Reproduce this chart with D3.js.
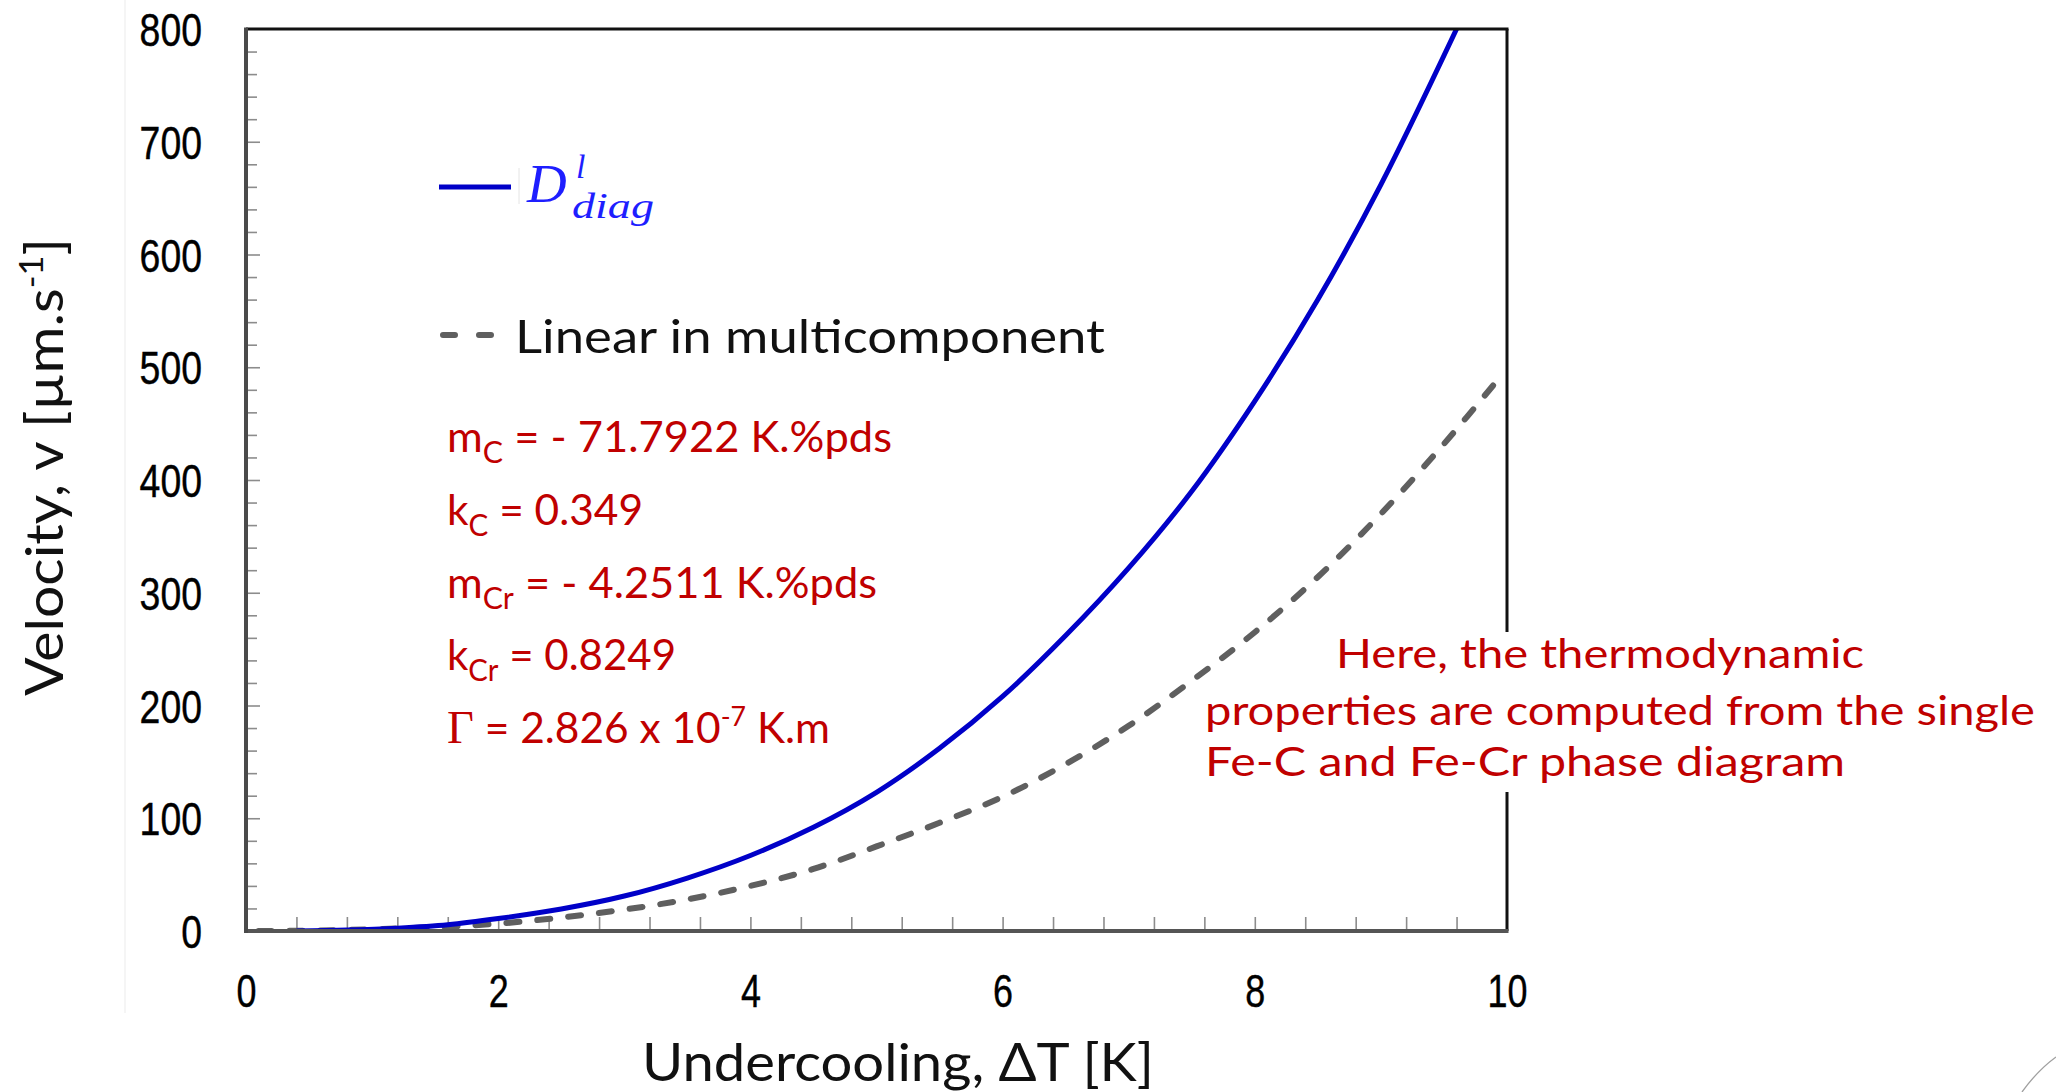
<!DOCTYPE html>
<html><head><meta charset="utf-8">
<script src="https://cdn.jsdelivr.net/npm/d3@7"></script>
<style>body{margin:0;background:#fff}svg{display:block}</style>
</head><body>
<svg id="c" width="2056" height="1092"></svg>
<script>
// ---- data ----
const diagT = [0.4, 0.8, 1.2, 1.6, 2.0, 2.5, 3.0, 3.5, 4.0, 4.5, 5.0, 5.5, 6.0, 6.5, 7.0, 7.5, 8.0, 8.5, 9.0, 9.6];
const diagV = [0, 0.8, 2.5, 5.5, 11, 19.5, 31, 47, 67, 92, 123, 162, 208, 262, 322, 390, 470, 560, 662, 800];
const linT = [0.1, 0.5, 1.0, 1.5, 2.0, 2.5, 3.0, 3.5, 4.0, 4.5, 5.0, 5.5, 6.0, 6.5, 7.0, 7.5, 8.0, 8.5, 9.0, 9.5, 9.95];
const linV = [0, 0.3, 1.5, 3.5, 6.5, 12, 19, 28, 40, 55, 75, 96, 119, 148, 182, 222, 265, 314, 370, 432, 492];
const xTicks = [0, 2, 4, 6, 8, 10];
const yTicks = [0, 100, 200, 300, 400, 500, 600, 700, 800];
const xTitle = "Undercooling, \u0394T [K]";
const yTitle = ["Velocity, v [\u00b5m.s", "-1", "]"];
const legendLinear = "Linear in multicomponent";
const annotation = ["Here, the thermodynamic", "properties are computed from the single", "Fe-C and Fe-Cr phase diagram"];

// ---- layout ----
const L = 246, R = 1507, T = 29, B = 931;
const svg = d3.select("#c");
const x = d3.scaleLinear().domain([0, 10]).range([L, R]);
const y = d3.scaleLinear().domain([0, 800]).range([B, T]);

svg.append("rect").attr("width", 2056).attr("height", 1092).attr("fill", "#fff");
// faint edge of pasted figure
svg.append("line").attr("x1", 125).attr("x2", 125).attr("y1", 0).attr("y2", 1013)
  .attr("stroke", "#f2f2f2").attr("stroke-width", 1.5);

// minor / major ticks (inward)
const tickCol = "#8c8c8c";
function styleTicks(g) {
  g.select(".domain").remove();
  g.selectAll("line").attr("stroke", tickCol).attr("stroke-width", 1.6);
}
svg.append("g").attr("transform", `translate(${L},0)`)
  .call(d3.axisLeft(y).tickValues(d3.range(20, 800, 20).filter(v => v % 100 !== 0)).tickSize(-11).tickFormat(""))
  .call(styleTicks);
svg.append("g").attr("transform", `translate(${L},0)`)
  .call(d3.axisLeft(y).tickValues(yTicks.slice(1, -1)).tickSize(-14).tickFormat(""))
  .call(styleTicks);
svg.append("g").attr("transform", `translate(0,${B})`)
  .call(d3.axisBottom(x).tickValues(d3.range(1, 25).map(i => +(i * 0.4).toFixed(1))).tickSize(-14).tickFormat(""))
  .call(styleTicks);

// tick labels
const tickFont = "'Liberation Sans Narrow','Arial Narrow','Liberation Sans',Arial,sans-serif";
const gy = svg.append("g").attr("transform", `translate(${L},0)`)
  .call(d3.axisLeft(y).tickValues(yTicks).tickSize(0).tickPadding(44));
gy.select(".domain").remove();
gy.selectAll("text").attr("font-family", tickFont).attr("font-size", 46).attr("fill", "#000")
  .attr("stroke", "#000").attr("stroke-width", 0.4)
  .attr("dy", "0.36em").attr("textLength", d => String(d).length * 20.8).attr("lengthAdjust", "spacingAndGlyphs");
const gx = svg.append("g").attr("transform", `translate(0,${B})`)
  .call(d3.axisBottom(x).tickValues(xTicks).tickSize(0).tickPadding(0));
gx.select(".domain").remove();
gx.selectAll("text").attr("font-family", tickFont).attr("font-size", 46).attr("fill", "#000")
  .attr("stroke", "#000").attr("stroke-width", 0.4)
  .attr("y", 76).attr("dy", 0).attr("textLength", d => String(d).length * 20).attr("lengthAdjust", "spacingAndGlyphs");

// curves
svg.append("clipPath").attr("id", "clip").append("rect")
  .attr("x", L).attr("y", T).attr("width", R - L).attr("height", B - T);
const line = d3.line().x(d => x(d[0])).y(d => y(d[1])).curve(d3.curveCatmullRom.alpha(0.5));
const linData = linT.map((t, i) => [t, linV[i]]);
const diagData = diagT.map((t, i) => [t, diagV[i]]);
svg.append("path").attr("clip-path", "url(#clip)").attr("d", line(linData))
  .attr("fill", "none").attr("stroke", "#5f5f5f").attr("stroke-width", 6)
  .attr("stroke-dasharray", "13 18").attr("stroke-linecap", "round");
svg.append("path").attr("clip-path", "url(#clip)").attr("d", line(diagData))
  .attr("fill", "none").attr("stroke", "#0000c8").attr("stroke-width", 5);

// frame
svg.append("line").attr("x1", L).attr("x2", R + 1.5).attr("y1", T).attr("y2", T).attr("stroke", "#111").attr("stroke-width", 3);
svg.append("line").attr("x1", R).attr("x2", R).attr("y1", T).attr("y2", B).attr("stroke", "#111").attr("stroke-width", 3);
svg.append("line").attr("x1", L).attr("x2", R + 1.5).attr("y1", B).attr("y2", B).attr("stroke", "#555").attr("stroke-width", 4);
svg.append("line").attr("x1", L).attr("x2", L).attr("y1", T - 1.5).attr("y2", B + 2).attr("stroke", "#4a4a4a").attr("stroke-width", 4);

// axis titles
const sans = "Lato,'Open Sans','Noto Sans',sans-serif";
svg.append("text").attr("x", 642).attr("y", 1081).attr("font-family", sans).attr("font-size", 53)
  .attr("fill", "#111").attr("textLength", 512).attr("lengthAdjust", "spacingAndGlyphs").text(xTitle);
const yt = svg.append("text").attr("transform", "translate(63,467) rotate(-90)").attr("text-anchor", "middle")
  .attr("font-family", sans).attr("font-size", 53).attr("fill", "#111")
  .attr("textLength", 458).attr("lengthAdjust", "spacingAndGlyphs");
yt.append("tspan").text(yTitle[0]);
yt.append("tspan").attr("font-size", 32).attr("dy", -20).text(yTitle[1]);
yt.append("tspan").attr("dy", 20).text(yTitle[2]);

// legend
svg.append("line").attr("x1", 439).attr("x2", 511).attr("y1", 187).attr("y2", 187)
  .attr("stroke", "#0000c8").attr("stroke-width", 5);
svg.append("line").attr("x1", 519).attr("x2", 519).attr("y1", 168).attr("y2", 204)
  .attr("stroke", "#e4e4e4").attr("stroke-width", 1);
const serif = "'Liberation Serif','DejaVu Serif',serif";
svg.append("text").attr("x", 527).attr("y", 202).attr("font-family", serif).attr("font-style", "italic")
  .attr("font-size", 55).attr("fill", "#1e1eff").text("D");
svg.append("text").attr("x", 576).attr("y", 178).attr("font-family", serif).attr("font-style", "italic")
  .attr("font-size", 34).attr("fill", "#1e1eff").text("l");
svg.append("text").attr("x", 572).attr("y", 218).attr("font-family", serif).attr("font-style", "italic")
  .attr("font-size", 36).attr("fill", "#1e1eff").attr("textLength", 82).attr("lengthAdjust", "spacingAndGlyphs").text("diag");
svg.append("line").attr("x1", 443).attr("x2", 493).attr("y1", 335).attr("y2", 335)
  .attr("stroke", "#5f5f5f").attr("stroke-width", 6).attr("stroke-dasharray", "12 24").attr("stroke-linecap", "round");
svg.append("text").attr("x", 515).attr("y", 353).attr("font-family", sans).attr("font-size", 46)
  .attr("fill", "#111").attr("textLength", 590).attr("lengthAdjust", "spacingAndGlyphs").text(legendLinear);

// parameters (red)
const red = "#c00000";
const params = [
  {y: 452, w: 445, parts: [["m"], ["C", "sub"], [" = - 71.7922 K.%pds"]]},
  {y: 525, w: 196, parts: [["k"], ["C", "sub"], [" = 0.349"]]},
  {y: 598, w: 430, parts: [["m"], ["Cr", "sub"], [" = - 4.2511 K.%pds"]]},
  {y: 670, w: 229, parts: [["k"], ["Cr", "sub"], [" = 0.8249"]]},
  {y: 743, w: 383, parts: [["\u0393", "serif"], [" = 2.826 x 10"], ["-7", "sup"], [" K.m"]]}
];
params.forEach(p => {
  const t = svg.append("text").attr("x", 447).attr("y", p.y).attr("font-family", sans).attr("font-size", 43)
    .attr("fill", red).attr("textLength", p.w).attr("lengthAdjust", "spacingAndGlyphs");
  let shift = 0;
  p.parts.forEach(([s, kind]) => {
    const ts = t.append("tspan").text(s);
    let target = 0;
    if (kind === "sub") { ts.attr("font-size", 30); target = 11; }
    else if (kind === "sup") { ts.attr("font-size", 27); target = -17; }
    else if (kind === "serif") { ts.attr("font-family", serif).attr("font-size", 47); }
    if (target !== shift) { ts.attr("dy", target - shift); shift = target; }
  });
});

// annotation box over right border
svg.append("rect").attr("x", 1496).attr("y", 632).attr("width", 24).attr("height", 160).attr("fill", "#fff");
const annX = [1336, 1205, 1205], annY = [668, 725, 776], annW = [528, 830, 640];
annotation.forEach((s, i) => {
  svg.append("text").attr("x", annX[i]).attr("y", annY[i]).attr("font-family", sans).attr("font-size", 41)
    .attr("fill", red).attr("textLength", annW[i]).attr("lengthAdjust", "spacingAndGlyphs").text(s);
});

// slide decoration, bottom right
svg.append("path").attr("d", "M2022,1092 Q2038,1070 2056,1057").attr("fill", "none")
  .attr("stroke", "#a0a0a0").attr("stroke-width", 1.3);
</script>
</body></html>
